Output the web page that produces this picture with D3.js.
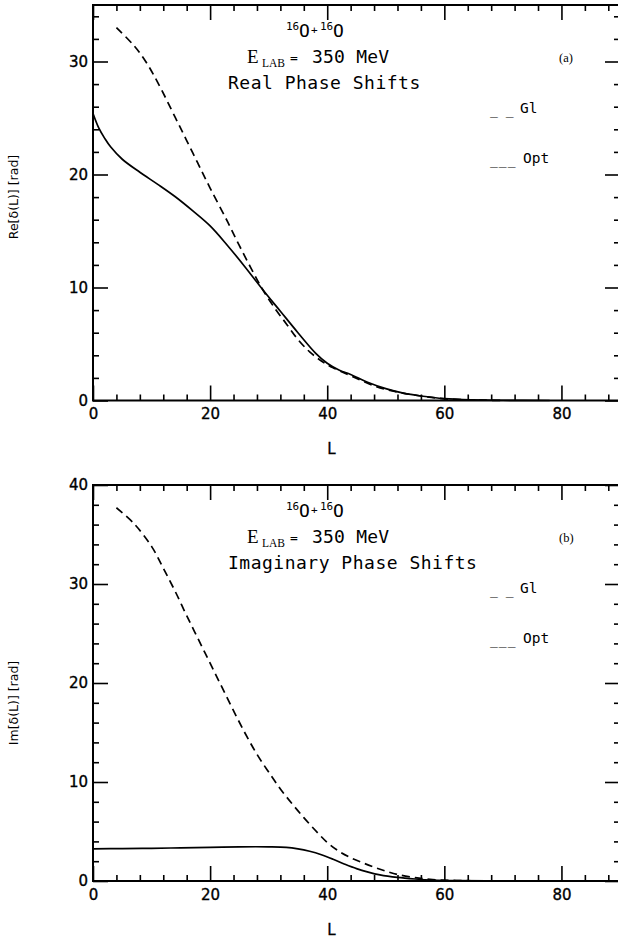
<!DOCTYPE html>
<html>
<head>
<meta charset="utf-8">
<script src="https://cdn.jsdelivr.net/npm/d3@7"></script>
<style>
  html, body { margin: 0; padding: 0; background: #fff; }
  svg { display: block; }
</style>
</head>
<body>
<svg id="chart" width="618" height="940"></svg>
<script>
// ---------- data ----------
const xTicksMajor = [0, 20, 40, 60, 80];
const reTicksMajor = [0, 10, 20, 30];
const imTicksMajor = [0, 10, 20, 30, 40];

// Panel (a): real phase shifts
const reSolidL   = [0, 1, 2, 3, 5, 8, 11, 14, 17, 20, 23, 26, 29, 32, 35, 38, 40, 42, 44, 47, 50, 53, 56, 60, 65, 70, 78];
const reSolidVal = [25.4, 24.1, 23.2, 22.45, 21.35, 20.2, 19.15, 18.05, 16.8, 15.45, 13.7, 11.8, 9.8, 7.9, 6.0, 4.2, 3.3, 2.7, 2.3, 1.6, 1.05, 0.65, 0.4, 0.17, 0.06, 0.02, 0.0];
const reDashL    = [4, 7, 9, 11, 14, 16, 18, 20, 23, 25, 27, 29, 31, 33, 35, 37, 39, 41, 44, 48, 52, 56, 60, 65, 70];
const reDashVal  = [33.0, 31.4, 30.0, 28.2, 25.1, 23.0, 20.9, 18.8, 15.8, 13.7, 11.7, 9.8, 8.2, 6.8, 5.4, 4.3, 3.5, 2.9, 2.2, 1.3, 0.75, 0.4, 0.15, 0.05, 0.0];

// Panel (b): imaginary phase shifts
const imSolidL   = [0, 5, 10, 15, 20, 25, 30, 33, 35, 37, 39, 41, 43, 45, 47, 49, 52, 55, 58, 62, 70, 78];
const imSolidVal = [3.25, 3.27, 3.3, 3.35, 3.4, 3.45, 3.45, 3.4, 3.25, 3.0, 2.65, 2.2, 1.7, 1.25, 0.9, 0.62, 0.36, 0.2, 0.09, 0.03, 0.01, 0.0];
const imDashL    = [4, 7, 10, 12, 14, 16, 18, 20, 22, 24, 26, 28, 30, 32, 34, 36, 38, 40, 42, 44, 46, 48, 50, 52, 55, 58, 62, 68];
const imDashVal  = [37.7, 36.1, 33.8, 31.6, 29.3, 26.8, 24.4, 22.0, 19.6, 17.2, 14.9, 12.8, 11.0, 9.3, 7.8, 6.4, 5.1, 3.9, 3.0, 2.35, 1.85, 1.4, 1.0, 0.65, 0.35, 0.15, 0.05, 0.0];

const legendLabels = ["Gl", "Opt"];
const legendMarks = ["_ _", "___"];

// ---------- drawing ----------
const svg = d3.select("#chart");
const SANS = "'DejaVu Sans', sans-serif";
const MONO = "'DejaVu Sans Mono', monospace";
const SERIF = "'Liberation Serif', 'DejaVu Serif', serif";

const x = d3.scaleLinear().domain([0, 90]).range([93, 620]);
const xMinor = d3.range(0, 91, 4).filter(v => v % 20 !== 0);

function zip(a, b) { return a.map((v, i) => [v, b[i]]); }

function panel(opts) {
  const { y, yMax, yMajor, top, bottom, solid, dash, ylabel, ylabelY, title3, tag } = opts;
  const g = svg.append("g");
  const yMinor = d3.range(0, yMax + 0.001, 2).filter(v => v % 10 !== 0);

  g.append("g").attr("transform", `translate(0,${bottom})`)
    .call(d3.axisBottom(x).tickValues(xTicksMajor).tickSizeInner(-15).tickSizeOuter(0).tickPadding(8).tickFormat(d3.format("d")));
  g.append("g").attr("transform", `translate(0,${bottom})`)
    .call(d3.axisBottom(x).tickValues(xMinor).tickSizeInner(-6).tickSizeOuter(0).tickFormat(""));
  g.append("g").attr("transform", `translate(0,${top})`)
    .call(d3.axisTop(x).tickValues(xTicksMajor).tickSizeInner(-15).tickSizeOuter(0).tickFormat(""));
  g.append("g").attr("transform", `translate(0,${top})`)
    .call(d3.axisTop(x).tickValues(xMinor).tickSizeInner(-6).tickSizeOuter(0).tickFormat(""));
  g.append("g").attr("transform", `translate(93,0)`)
    .call(d3.axisLeft(y).tickValues(yMajor).tickSizeInner(-15).tickSizeOuter(0).tickPadding(5).tickFormat(d3.format("d")));
  g.append("g").attr("transform", `translate(93,0)`)
    .call(d3.axisLeft(y).tickValues(yMinor).tickSizeInner(-6).tickSizeOuter(0).tickFormat(""));
  g.append("g").attr("transform", `translate(620,0)`)
    .call(d3.axisRight(y).tickValues(yMajor).tickSizeInner(-15).tickSizeOuter(0).tickFormat(""));
  g.append("g").attr("transform", `translate(620,0)`)
    .call(d3.axisRight(y).tickValues(yMinor).tickSizeInner(-6).tickSizeOuter(0).tickFormat(""));

  g.selectAll(".domain").remove();
  g.selectAll(".tick line").attr("stroke", "#000").attr("stroke-width", 1.6);
  g.selectAll(".tick text").attr("font-family", SANS).attr("font-size", 15).attr("fill", "#000")
    .attr("stroke", "#000").attr("stroke-width", 0.35);

  g.append("rect").attr("x", 93).attr("y", top).attr("width", 620 - 93).attr("height", bottom - top)
    .attr("fill", "none").attr("stroke", "#000").attr("stroke-width", 2);

  const line = d3.line().x(d => x(d[0])).y(d => y(d[1])).curve(d3.curveCatmullRom.alpha(0.5));
  g.append("path").attr("d", line(solid)).attr("fill", "none").attr("stroke", "#000").attr("stroke-width", 1.7);
  g.append("path").attr("d", line(dash)).attr("fill", "none").attr("stroke", "#000").attr("stroke-width", 1.7)
    .attr("stroke-dasharray", "8,5");

  g.append("text").attr("x", 331.5).attr("y", bottom + 53.5).attr("text-anchor", "middle")
    .attr("font-family", SANS).attr("font-size", 15).attr("stroke", "#000").attr("stroke-width", 0.3).text("L");
  g.append("text").attr("transform", `translate(18,${ylabelY}) rotate(-90)`).attr("text-anchor", "middle")
    .attr("font-family", SANS).attr("font-size", 12.5).text(ylabel);

  const t1 = top + 32;
  const t = g.append("text").attr("y", t1).attr("font-family", MONO).attr("fill", "#000");
  t.append("tspan").attr("x", 286).attr("dy", -7).attr("font-size", 11).text("16");
  t.append("tspan").attr("x", 299).attr("dy", 7).attr("font-size", 18).text("O");
  t.append("tspan").attr("x", 311).attr("dy", -3).attr("font-size", 11).text("+");
  t.append("tspan").attr("x", 320).attr("dy", -4).attr("font-size", 11).text("16");
  t.append("tspan").attr("x", 333).attr("dy", 7).attr("font-size", 18).text("O");

  const t2 = top + 58;
  g.append("text").attr("x", 247).attr("y", t2).attr("font-family", SERIF).attr("font-size", 19).text("E");
  g.append("text").attr("x", 262).attr("y", t2 + 4).attr("font-family", SERIF).attr("font-size", 11.5).text("LAB");
  g.append("text").attr("x", 290).attr("y", t2 - 1).attr("font-family", MONO).attr("font-size", 13).text("=");
  g.append("text").attr("x", 312).attr("y", t2).attr("font-family", MONO).attr("font-size", 18).attr("letter-spacing", 0.2).text("350 MeV");

  g.append("text").attr("x", 228).attr("y", top + 84).attr("font-family", MONO).attr("font-size", 18)
    .attr("letter-spacing", 0.5).text(title3);

  g.append("text").attr("x", 559).attr("y", top + 57).attr("font-family", SERIF).attr("font-size", 12.5).text(tag);

  const legY = [top + 108, top + 157.5];
  legendLabels.forEach((lab, i) => {
    g.append("text").attr("x", 490).attr("y", legY[i] + 2).attr("font-family", MONO).attr("font-size", 13)
      .attr("letter-spacing", i === 1 ? 1 : 0).text(legendMarks[i]);
    g.append("text").attr("x", i === 0 ? 520 : 523).attr("y", legY[i]).attr("font-family", MONO).attr("font-size", 14.5).text(lab);
  });
}

panel({
  y: d3.scaleLinear().domain([0, 35]).range([400.5, 5]),
  yMax: 35, yMajor: reTicksMajor, top: 5, bottom: 400.5,
  solid: zip(reSolidL, reSolidVal), dash: zip(reDashL, reDashVal),
  ylabel: "Re[δ(L)] [rad]", ylabelY: 197, title3: "Real Phase Shifts", tag: "(a)"
});
panel({
  y: d3.scaleLinear().domain([0, 40]).range([881, 485]),
  yMax: 40, yMajor: imTicksMajor, top: 485, bottom: 881,
  solid: zip(imSolidL, imSolidVal), dash: zip(imDashL, imDashVal),
  ylabel: "Im[δ(L)] [rad]", ylabelY: 703, title3: "Imaginary Phase Shifts", tag: "(b)"
});
</script>
</body>
</html>
